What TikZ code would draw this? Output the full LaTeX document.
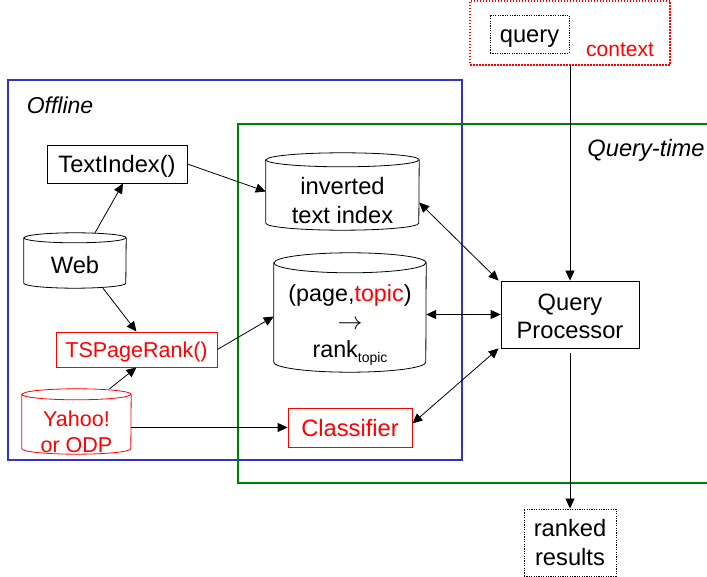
\documentclass[tikz,border=0pt]{standalone}
\usepackage{fontspec}
\setmainfont{Liberation Sans}
\usetikzlibrary{arrows.meta,calc}
\definecolor{offblue}{RGB}{51,51,204}
\definecolor{qgreen}{RGB}{0,128,0}
\newcommand\cylshape[4]{%
  \filldraw[fill=white,draw=#4,line width=0.8pt] ([yshift=-#3]#1.north west) -- ([yshift=#3]#1.south west)
    arc[start angle=180,end angle=360,x radius=#2,y radius=#3] -- ([yshift=-#3]#1.north east)
    arc[start angle=0,end angle=180,x radius=#2,y radius=#3] -- cycle;
  \draw[#4,line width=0.8pt] ([yshift=-#3]#1.north west) arc[start angle=180,end angle=360,x radius=#2,y radius=#3];
}
\begin{document}
\begin{tikzpicture}[x=1pt,y=-1pt,
  every node/.style={font=\fontsize{23.7}{28.5}\selectfont, inner sep=0pt, align=center},
  box/.style={draw, line width=0.8pt, fill=white},
  redbox/.style={box, draw=red, text=red},
  dotbox/.style={draw, dash pattern=on 1.2pt off 1.2pt, line width=0.9pt, fill=white},
  oneline/.style={text height=17pt, text depth=0pt},
  frame/.style={inner sep=0pt},
  arr/.style={-{Triangle[length=10pt,width=9pt]}, line width=0.8pt},
  darr/.style={{Triangle[length=10pt,width=9pt]}-{Triangle[length=10pt,width=9pt]}, line width=0.8pt},
]
\useasboundingbox (0,0) rectangle (707,577);
\clip (0,0) rectangle (707,577);

% frames
\draw[offblue, line width=1.8pt] (8,80) rectangle (462,460);
\draw[qgreen, line width=1.8pt] (238,124) rectangle (715,483);
\node[font=\fontsize{23}{27}\selectfont\itshape] (offl) at (60,105) {Offline};
\node[font=\fontsize{23.7}{28}\selectfont\itshape] (qtime) at (646,150) {Query-time};

% context
\node[draw=red, dash pattern=on 1.5pt off 1.5pt, line width=1.2pt, minimum width=200pt, minimum height=64pt] (ctx) at (570,33) {};
\node[dotbox, oneline, minimum width=79pt, minimum height=38pt] (qry) at (529.5,34) {query};
\node[text=red, font=\fontsize{21}{25}\selectfont] (ctxl) at (620,50) {context};

% boxes
\node[box, oneline, minimum width=140pt, minimum height=38pt] (ti) at (117,164) {TextIndex()};
\node[redbox, font=\fontsize{21.5}{26}\selectfont, text height=15.5pt, text depth=0pt, minimum width=161pt, minimum height=35pt] (tsp) at (136.5,349.5) {TSPageRank()};
\node[redbox, oneline, minimum width=124pt, minimum height=39pt] (cls) at (350,427.5) {Classifier};
\node[box, minimum width=138pt, minimum height=67pt] (qp) at (570,314.5) {};
\node (qpt) at ([yshift=-2pt]qp.center) {Query\\Processor};
\node[dotbox, minimum width=92pt, minimum height=67pt] (rr) at (570,542.5) {ranked\\results};

% cylinders
\node[frame, minimum width=102pt, minimum height=55pt] (web) at (75,260.5) {};
\cylshape{web}{51pt}{5pt}{black}
\node (webt) at ([yshift=-5pt]web.center) {Web};

\node[frame, minimum width=153pt, minimum height=77pt] (inv) at (342.5,191.5) {};
\cylshape{inv}{76.5pt}{7pt}{black}
\node (invt) at ([yshift=-9pt]inv.center) {inverted\\text index};

\node[frame, minimum width=152pt, minimum height=119pt] (rank) at (350,312.5) {};
\cylshape{rank}{76pt}{10pt}{black}
\node[font=\fontsize{23.3}{27}\selectfont] (rankt) at ([yshift=-13pt]rank.center) {(page,\textcolor{red}{topic})\\[1pt]$\rightarrow$\\[1pt]rank\raisebox{-5pt}{\fontsize{14}{14}\selectfont topic}};

\node[frame, minimum width=109pt, minimum height=65pt] (yahoo) at (76.5,421.5) {};
\cylshape{yahoo}{54.5pt}{5.5pt}{red}
\node[text=red, font=\fontsize{21.5}{26}\selectfont] (yahoot) at ([yshift=-10pt]yahoo.center) {Yahoo!\\or ODP};

% connectors
\draw[arr] (ti.east) -- (inv.west);
\draw[arr] ([xshift=20pt]web.north) -- ([xshift=6pt]ti.south);
\draw[arr] ([xshift=28pt]web.south) -- (tsp.north);
\draw[arr] ([xshift=33pt]yahoo.north) -- (tsp.south);
\draw[arr] (tsp.east) -- ([yshift=-4pt]rank.west);
\draw[arr] (yahoo.east |- cls.west) -- (cls.west);
\draw[darr] ([yshift=-11pt]inv.east) -- ([xshift=-2pt]qp.north west);
\draw[darr] (rank.east |- qp.west) -- (qp.west);
\draw[darr] ([yshift=4pt]cls.east) -- ([xshift=-2pt]qp.south west);
\draw[arr] (ctx.south) -- (qp.north);
\draw[arr, shorten <=5pt] (qp.south) -- (rr.north);
\end{tikzpicture}
\end{document}
